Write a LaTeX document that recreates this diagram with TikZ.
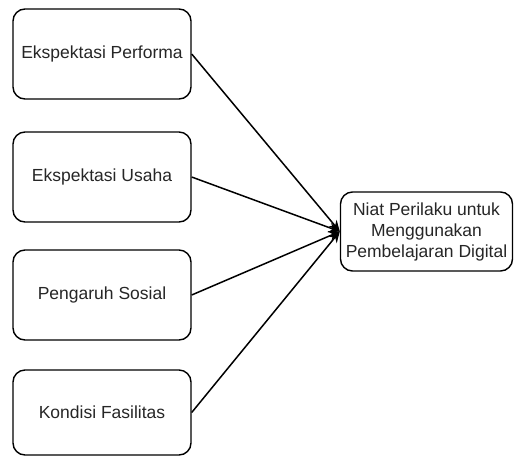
\documentclass[tikz,border=0pt]{standalone}
\usepackage{fontspec}
\setmainfont{Liberation Sans}
\usetikzlibrary{arrows.meta}
\begin{document}
\begin{tikzpicture}[x=1pt,y=-1pt,
 box/.style={draw=black, line width=1.4pt, rounded corners=12pt, minimum width=178pt, minimum height=90pt, inner sep=0pt, font=\fontsize{17.5}{21}\selectfont, align=center, text=black!85},
 arr/.style={-{Stealth[length=11pt,width=10pt]}, line width=1.5pt}]
\useasboundingbox (0,0) rectangle (514,456);
\node[box] (a) at (102,54) {Ekspektasi Performa};
\node[box] (b) at (102,177) {Ekspektasi Usaha};
\node[box] (c) at (102,295) {Pengaruh Sosial};
\node[box, minimum height=85pt] (d) at (102,412.5) {Kondisi Fasilitas};
\node[box, minimum width=172pt, minimum height=79pt] (e) at (426.5,231.5) {Niat Perilaku untuk\\Menggunakan\\Pembelajaran Digital};
\draw[arr] (a.east) -- (e.west);
\draw[arr] (b.east) -- (e.west);
\draw[arr] (c.east) -- (e.west);
\draw[arr] (d.east) -- (e.west);
\end{tikzpicture}
\end{document}
